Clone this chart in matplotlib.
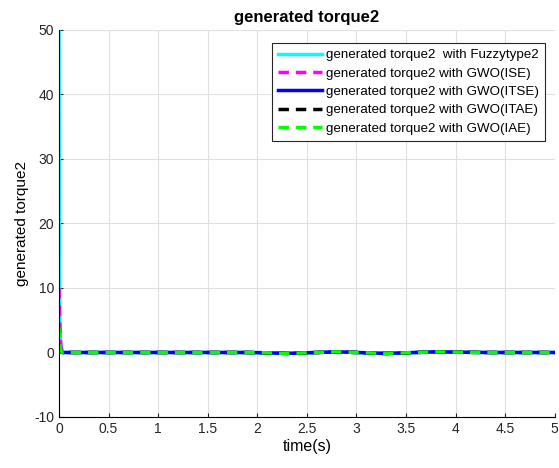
import matplotlib.pyplot as plt
import numpy as np

# time axis (s)
t = [0.0, 0.002, 0.005, 0.01, 0.015, 0.02, 0.03, 0.04, 0.06, 0.1, 0.3, 0.5, 0.8,
     1.0, 1.3, 1.6, 1.9, 2.1, 2.3, 2.5, 2.8, 3.0, 3.3, 3.5, 3.8, 4.0, 4.3, 4.6, 5.0]

fuzzy = [50.0, 30.0, 12.0, 4.0, 1.5, 0.6, 0.2, 0.05, 0.0, 0.0, 0.0, 0.0, 0.0,
         0.0, 0.0, 0.0, 0.0, -0.05, -0.15, -0.05, 0.1, 0.0, -0.15, -0.05, 0.1, 0.05, 0.0, 0.0, 0.0]
gwo_ise = [10.0, 9.0, 6.0, 4.0, 2.0, 1.0, 0.3, 0.1, 0.0, 0.0, 0.0, 0.0, 0.0,
           0.0, 0.0, 0.0, 0.0, -0.05, -0.15, -0.05, 0.1, 0.0, -0.15, -0.05, 0.1, 0.05, 0.0, 0.0, 0.0]
gwo_itse = [1.0, 1.2, 1.0, 0.6, 0.3, 0.1, 0.0, 0.0, 0.0, 0.0, 0.0, 0.0, 0.0,
            0.0, 0.0, 0.0, 0.0, -0.05, -0.15, -0.05, 0.1, 0.0, -0.15, -0.05, 0.1, 0.05, 0.0, 0.0, 0.0]
gwo_itae = [4.0, 3.5, 2.5, 1.2, 0.5, 0.2, 0.05, 0.0, 0.0, 0.0, 0.0, 0.0, 0.0,
            0.0, 0.0, 0.0, 0.0, -0.05, -0.15, -0.05, 0.1, 0.0, -0.15, -0.05, 0.1, 0.05, 0.0, 0.0, 0.0]
gwo_iae = [4.0, 3.8, 2.8, 1.4, 0.6, 0.25, 0.05, 0.0, 0.0, 0.0, 0.0, 0.0, 0.0,
           0.0, 0.0, 0.0, 0.0, -0.05, -0.15, -0.05, 0.1, 0.0, -0.15, -0.05, 0.1, 0.05, 0.0, 0.0, 0.0]

plt.rcParams['font.family'] = ['Liberation Sans', 'DejaVu Sans']
plt.rcParams['axes.unicode_minus'] = False

fig = plt.figure(figsize=(5.59, 4.68), dpi=100)
ax = fig.add_axes([0.1055, 0.109, 0.887, 0.827])

ax.plot(t, fuzzy, color='#00ffff', lw=2.5, label='generated torque2  with Fuzzytype2')
ax.plot(t, gwo_ise, color='#ff00ff', lw=2.5, ls=(0, (3, 2)), label='generated torque2 with GWO(ISE)')
ax.plot(t, gwo_itse, color='#0000ff', lw=2.5, label='generated torque2 with GWO(ITSE)')
ax.plot(t, gwo_itae, color='black', lw=2.5, ls=(0, (3, 2)), label='generated torque2 with GWO(ITAE)')
ax.plot(t, gwo_iae, color='#00ff00', lw=2.5, ls=(0, (3, 2)), label='generated torque2 with GWO(IAE)')

ax.set_xlim(0, 5)
ax.set_ylim(-10, 50)
ax.set_xticks(np.arange(0, 5.01, 0.5))
ax.set_xticklabels(['0', '0.5', '1', '1.5', '2', '2.5', '3', '3.5', '4', '4.5', '5'])
ax.set_yticks(np.arange(-10, 51, 10))
ax.grid(True, color='#e0e0e0', lw=0.8)
ax.set_axisbelow(True)
for s in ['top', 'right']:
    ax.spines[s].set_visible(False)
ax.tick_params(labelsize=10, direction='in', length=3, colors='#262626')
ax.set_xlabel('time(s)', fontsize=11.5, labelpad=2)
ax.set_ylabel('generated torque2', fontsize=11, labelpad=4)
ax.set_title('generated torque2', fontsize=12, fontweight='bold', pad=6)

leg = ax.legend(loc='upper right', bbox_to_anchor=(0.98, 0.966), fontsize=9.6,
                borderaxespad=0, fancybox=False, framealpha=1, edgecolor='#262626',
                handlelength=3.3, handletextpad=0.3, labelspacing=0.45, borderpad=0.45)
leg.get_frame().set_linewidth(0.8)

fig.savefig('out.png', dpi=100)
